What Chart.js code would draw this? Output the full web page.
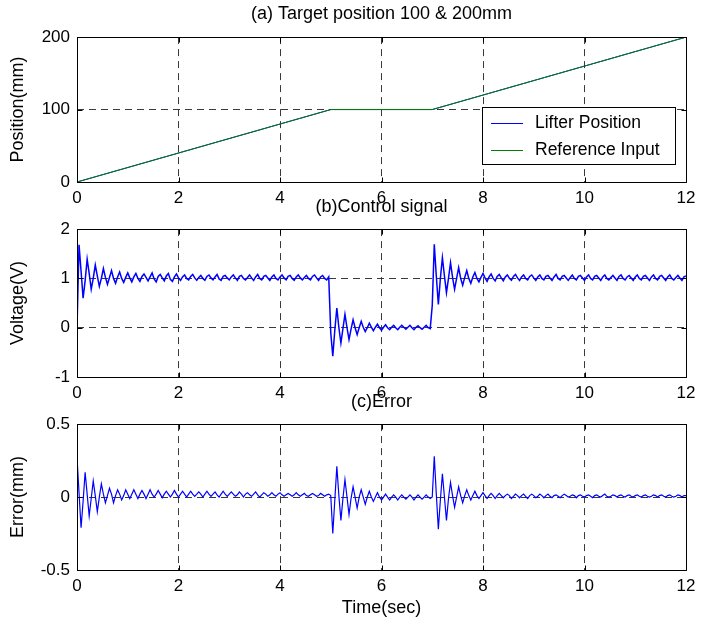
<!DOCTYPE html>
<html><head><meta charset="utf-8">
<script src="https://cdn.jsdelivr.net/npm/chart.js@4.4.1/dist/chart.umd.min.js"></script>
<style>
html,body{margin:0;padding:0;background:#fff;width:724px;height:624px;overflow:hidden}
canvas{position:absolute;left:0}
</style></head>
<body>
<canvas id="c1" width="724" height="215" style="top:0px;width:724px;height:215px"></canvas>
<canvas id="c2" width="724" height="214" style="top:196px;width:724px;height:214px"></canvas>
<canvas id="c3" width="724" height="233" style="top:391px;width:724px;height:233px"></canvas>
<script>
// ---------- data ----------
const xTicks = [0, 2, 4, 6, 8, 10, 12];
const positionTime = [0, 5, 7, 12];                 // s
const lifterPosition = [0, 100, 100, 200];          // mm
const referenceInput = [0, 100, 100, 200];          // mm

const sampleStep = 0.04;                            // s between samples of control / error
// control signal (V), t = 0.00 .. 4.96
const controlA = [
 0.00,1.68,1.15,0.60,0.95,1.39,1.10,0.78,1.00,1.27,1.05,0.84,1.00,1.20,1.02,0.88,1.02,1.16,1.00,0.90,1.03,1.13,1.00,0.92,1.02,
 1.11,1.01,0.93,1.03,1.10,1.00,0.94,1.04,1.09,1.02,0.95,1.03,1.11,0.99,0.93,1.04,1.08,1.01,0.95,1.05,1.10,0.98,0.94,1.03,1.09,
 1.01,0.96,1.03,1.07,1.00,0.97,1.04,1.08,1.01,0.96,1.02,1.06,1.00,0.96,1.04,1.07,1.01,0.97,1.03,1.08,0.99,0.96,1.04,1.06,1.01,
 0.97,1.03,1.07,1.01,0.96,1.04,1.06,1.00,0.97,1.02,1.07,1.01,0.96,1.03,1.08,1.00,0.97,1.04,1.06,1.01,0.96,1.03,1.07,1.00,0.97,
 1.03,1.07,1.01,0.97,1.04,1.06,1.00,0.96,1.03,1.07,1.01,0.97,1.02,1.06,1.00,0.97,1.04,1.07,1.01,0.96,1.03,1.06,1.00,0.97,1.03
];
// t = 5.00 .. 6.96
const controlB = [
 -0.10,-0.58,-0.05,0.40,0.00,-0.31,-0.02,0.27,0.00,-0.24,-0.03,0.16,0.00,-0.14,0.00,0.13,0.01,-0.08,0.00,0.09,0.01,-0.06,0.01,0.07,0.00,
 -0.05,0.01,0.06,0.00,-0.04,0.01,0.05,0.00,-0.04,0.01,0.05,0.01,-0.03,0.01,0.05,0.00,-0.04,0.01,0.04,0.00,-0.03,0.01,0.05,0.00,-0.02
];
// t = 7.00 .. 12.00
const controlC = [
 0.45,1.69,1.05,0.47,1.00,1.42,1.05,0.71,1.00,1.32,1.02,0.78,1.00,1.22,1.00,0.86,1.02,1.16,1.00,0.90,1.03,1.12,1.00,0.93,1.02,
 1.10,1.01,0.94,1.03,1.09,1.00,0.95,1.04,1.08,1.01,0.95,1.03,1.07,1.00,0.96,1.04,1.08,1.01,0.96,1.03,1.07,1.00,0.97,1.04,1.07,
 1.01,0.96,1.03,1.07,1.00,0.97,1.04,1.06,1.01,0.96,1.03,1.08,1.00,0.97,1.04,1.06,1.01,0.96,1.02,1.07,1.00,0.97,1.04,1.06,1.01,
 0.96,1.03,1.07,1.00,0.97,1.04,1.06,1.01,0.96,1.03,1.07,1.00,0.97,1.02,1.06,1.01,0.96,1.04,1.07,1.00,0.97,1.03,1.06,1.01,0.96,
 1.03,1.07,1.00,0.97,1.04,1.06,1.01,0.96,1.03,1.07,1.00,0.97,1.04,1.06,1.01,0.96,1.03,1.07,1.00,0.97,1.02,1.06,1.01,0.96,1.03,1.05
];
// error (mm), t = 0.00 .. 4.96
const errorA = [
 0.27,0.03,-0.21,-0.03,0.17,0.02,-0.13,-0.01,0.11,0.01,-0.10,0.00,0.09,0.02,-0.04,0.01,0.06,0.02,-0.04,0.01,0.05,0.02,-0.02,0.01,0.05,
 0.02,-0.01,0.02,0.05,0.02,-0.01,0.02,0.045,0.02,-0.01,0.02,0.05,0.02,0.00,0.02,0.045,0.02,-0.005,0.02,0.04,0.02,0.00,0.02,0.045,0.02,
 0.00,0.02,0.04,0.02,0.00,0.02,0.04,0.02,0.005,0.02,0.035,0.02,0.00,0.02,0.04,0.02,0.005,0.02,0.035,0.015,0.00,0.02,0.04,0.02,0.005,
 0.02,0.035,0.02,0.005,0.015,0.035,0.02,0.00,0.02,0.03,0.015,0.005,0.02,0.035,0.015,0.00,0.015,0.03,0.02,0.005,0.015,0.03,0.015,0.005,0.02,
 0.03,0.015,0.005,0.015,0.025,0.015,0.005,0.015,0.03,0.015,0.005,0.015,0.025,0.01,0.005,0.015,0.025,0.015,0.005,0.01,0.025,0.015,0.005,0.015,0.02
];
// t = 5.00 .. 6.96
const errorB = [
 0.01,-0.25,-0.02,0.21,0.01,-0.16,-0.01,0.12,0.00,-0.12,-0.01,0.07,0.00,-0.075,0.00,0.05,0.00,-0.05,0.00,0.04,0.00,-0.03,0.00,0.03,0.00,
 -0.02,0.00,0.02,0.00,-0.02,0.00,0.015,0.00,-0.02,0.00,0.015,0.00,-0.015,0.00,0.015,0.00,-0.02,0.00,0.015,0.00,-0.015,0.00,0.015,0.00,-0.01
];
// t = 7.00 .. 12.00
const errorC = [
 0.00,0.28,0.02,-0.22,-0.02,0.16,0.00,-0.16,-0.01,0.10,0.01,-0.07,0.00,0.07,0.01,-0.04,0.01,0.05,0.01,-0.02,0.01,0.04,0.01,-0.01,0.01,
 0.03,0.01,-0.01,0.01,0.025,0.01,-0.01,0.01,0.025,0.01,-0.005,0.01,0.02,0.01,-0.01,0.005,0.02,0.01,-0.005,0.01,0.02,0.005,-0.01,0.01,0.02,
 0.01,-0.005,0.005,0.02,0.01,-0.005,0.01,0.02,0.005,-0.005,0.01,0.015,0.005,-0.005,0.01,0.02,0.01,0.00,0.005,0.015,0.01,-0.005,0.01,0.015,0.005,
 0.00,0.01,0.015,0.005,-0.005,0.01,0.015,0.005,0.00,0.01,0.02,0.005,0.00,0.005,0.015,0.01,0.00,0.01,0.015,0.005,0.00,0.01,0.015,0.005,0.00,
 0.01,0.015,0.005,0.00,0.01,0.015,0.005,0.00,0.005,0.015,0.01,0.00,0.01,0.015,0.005,0.00,0.01,0.015,0.005,0.00,0.005,0.015,0.01,0.00,0.01,0.01
];

// ---------- helpers ----------
const FAMILY = '"Liberation Sans", Arial, Helvetica, sans-serif';
Chart.defaults.font.family = FAMILY;
Chart.defaults.font.size = 17;
Chart.defaults.color = '#000';

const controlVolts = [...controlA, ...controlB, ...controlC];
const errorMm = [...errorA, ...errorB, ...errorC];
const sampled = vals => vals.map((v, i) => ({x: +(i * sampleStep).toFixed(2), y: v}));
const paired = (ts, vs) => ts.map((t, i) => ({x: t, y: vs[i]}));

const frame = {
  id: 'frame',
  afterDraw(chart) {
    const {ctx, chartArea: a, scales: {x, y}} = chart;
    ctx.save();
    ctx.strokeStyle = '#000'; ctx.lineWidth = 1;
    const L = Math.round(a.left) + 0.5, R = Math.round(a.right) + 0.5, T = Math.round(a.top) + 0.5, B = Math.round(a.bottom) + 0.5;
    ctx.beginPath();
    ctx.rect(L, T, R - L, B - T);
    x.ticks.forEach(t => { const p = Math.round(x.getPixelForValue(t.value)) + 0.5; ctx.moveTo(p, B); ctx.lineTo(p, B - 5); ctx.moveTo(p, T); ctx.lineTo(p, T + 5); });
    y.ticks.forEach(t => { const p = Math.round(y.getPixelForValue(t.value)) + 0.5; ctx.moveTo(L, p); ctx.lineTo(L + 5, p); ctx.moveTo(R, p); ctx.lineTo(R - 5, p); });
    ctx.stroke();
    ctx.restore();
  }
};

const boxLegend = {
  id: 'boxLegend',
  afterDraw(chart) {
    const {ctx, chartArea: a} = chart;
    const L = Math.round(a.right - 204), T = Math.round(a.top + 70), W = 193, H = 57;
    ctx.save();
    ctx.fillStyle = '#fff'; ctx.fillRect(L, T, W, H);
    ctx.strokeStyle = '#000'; ctx.lineWidth = 1; ctx.strokeRect(L + 0.5, T + 0.5, W, H);
    ctx.font = '17.5px ' + FAMILY; ctx.textBaseline = 'middle'; ctx.textAlign = 'left';
    chart.data.datasets.forEach((ds, i) => {
      const yy = Math.round(T + 16 + i * 26.6) + 0.5;
      ctx.strokeStyle = ds.borderColor; ctx.lineWidth = 1;
      ctx.beginPath(); ctx.moveTo(L + 9, yy); ctx.lineTo(L + 41, yy); ctx.stroke();
      ctx.fillStyle = '#000';
      ctx.fillText(ds.label, L + 53, yy);
    });
    ctx.restore();
  }
};

function makeChart(id, datasets, cfg) {
  return new Chart(document.getElementById(id), {
    type: 'line',
    data: {datasets},
    options: {
      responsive: false, animation: false, devicePixelRatio: 1, events: [],
      layout: {padding: {left: 0, right: 38, top: 0, bottom: 0}},
      elements: {point: {radius: 0}, line: {tension: 0, borderWidth: 1}},
      plugins: {
        legend: {display: false}, tooltip: {enabled: false},
        title: {display: true, text: cfg.title, fullSize: false, color: '#000',
                font: {family: FAMILY, size: 18, weight: 'normal'},
                padding: cfg.titlePad}
      },
      scales: {
        x: {
          type: 'linear', min: 0, max: 12,
          afterBuildTicks: s => { s.ticks = xTicks.map(v => ({value: v})); },
          afterFit: s => { s.height = cfg.xh; },
          ticks: {padding: 6, autoSkip: false, maxRotation: 0, font: {size: 17}},
          grid: {color: '#3a3a3a', lineWidth: 1, drawTicks: false},
          border: {display: false, dash: [7, 5]},
          title: cfg.xTitle ? {display: true, text: cfg.xTitle, font: {size: 18}, padding: {top: 0, bottom: 5}} : {display: false}
        },
        y: {
          type: 'linear', min: cfg.ymin, max: cfg.ymax,
          afterFit: s => { s.width = 77; },
          ticks: {stepSize: cfg.ystep, padding: 7, font: {size: 17}},
          grid: {color: '#3a3a3a', lineWidth: 1, drawTicks: false},
          border: {display: false, dash: [7, 5]},
          title: {display: true, text: cfg.yTitle, font: {size: 18}, padding: {top: 7, bottom: 0}}
        }
      }
    },
    plugins: cfg.plugins
  });
}

makeChart('c1', [
  {label: 'Lifter Position', data: paired(positionTime, lifterPosition), borderColor: '#0000ff', order: 1},
  {label: 'Reference Input', data: paired(positionTime, referenceInput), borderColor: '#008000', order: 0}
], {title: '(a) Target position 100 & 200mm', titlePad: {top: 3.5, bottom: 12}, xh: 33,
    ymin: 0, ymax: 200, ystep: 100, yTitle: 'Position(mm)', plugins: [frame, boxLegend]});

makeChart('c2', [
  {label: 'Control signal', data: sampled(controlVolts), borderColor: '#0000ff', borderWidth: 1.5}
], {title: '(b)Control signal', titlePad: {top: 0.5, bottom: 11}, xh: 33,
    ymin: -1, ymax: 2, ystep: 1, yTitle: 'Voltage(V)', plugins: [frame]});

makeChart('c3', [
  {label: 'Error', data: sampled(errorMm), borderColor: '#0000ff', borderWidth: 1.2}
], {title: '(c)Error', titlePad: {top: 0.5, bottom: 11}, xh: 54, xTitle: 'Time(sec)',
    ymin: -0.5, ymax: 0.5, ystep: 0.5, yTitle: 'Error(mm)', plugins: [frame]});
</script>
</body></html>
